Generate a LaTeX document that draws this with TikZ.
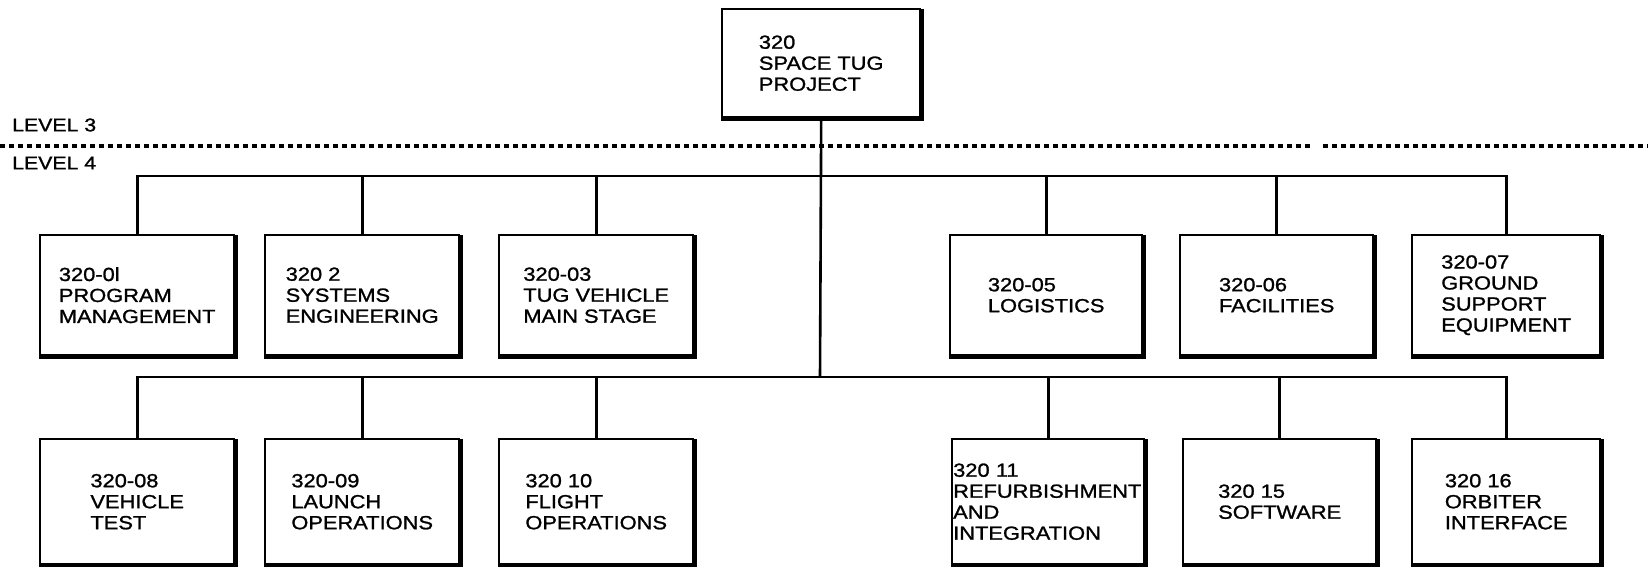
\documentclass[tikz,border=0pt]{standalone}
\usepackage{fontspec}
\setmainfont{Liberation Sans}[FakeStretch=1.15,FakeBold=1.2]
\begin{document}
\begin{tikzpicture}[x=1pt,y=-1pt,
  box/.style={draw, line width=2.4pt, anchor=north west, inner sep=0pt,
    align=left, font=\fontsize{19}{21}\selectfont},
  rowA/.style={box, minimum height=120pt},
  rowB/.style={box, minimum height=125pt},
  conn/.style={line width=2.6pt},
  heavy/.style={line width=4.4pt, line cap=butt},
  dotline/.style={line width=3.3pt, dash pattern=on 5pt off 4pt},
  lvl/.style={anchor=west, inner sep=0pt, font=\fontsize{18.5}{18.5}\selectfont}]
\useasboundingbox (0,0) rectangle (1648,567);

% level separators
\node[lvl] (lv3) at (12,125) {LEVEL 3};
\node[lvl] (lv4) at (12,163) {LEVEL 4};
\coordinate (d0) at (0,146);
\coordinate (d1) at (1310,146);
\coordinate (d2) at (1323,146);
\coordinate (d3) at (1648,146);
\draw[dotline] (d0) -- (d1);
\draw[dotline] (d2) -- (d3);

% top box
\node[box, minimum width=198pt, minimum height=108pt] (top) at (721,8) {320\\SPACE TUG\\PROJECT};

% row A
\node[rowA, minimum width=194pt] (b01) at (39,234) {320-0l\\PROGRAM\\MANAGEMENT};
\node[rowA, minimum width=194pt] (b02) at (264,234) {320 2\\SYSTEMS\\ENGINEERING};
\node[rowA, minimum width=194pt] (b03) at (498,234) {320-03\\TUG VEHICLE\\MAIN STAGE};
\node[rowA, minimum width=192pt] (b05) at (949,234) {320-05\\LOGISTICS};
\node[rowA, minimum width=193pt] (b06) at (1179,234) {320-06\\FACILITIES};
\node[rowA, minimum width=188pt] (b07) at (1411,234) {320-07\\GROUND\\SUPPORT\\EQUIPMENT};

% row B
\node[rowB, minimum width=194pt] (b08) at (39,438) {320-08\\VEHICLE\\TEST};
\node[rowB, minimum width=194pt] (b09) at (264,438) {320-09\\LAUNCH\\OPERATIONS};
\node[rowB, minimum width=194pt] (b10) at (498,438) {320 10\\FLIGHT\\OPERATIONS};
\node[rowB, text width=190pt, inner xsep=1pt] (b11) at (951,438) {320 11\\REFURBISHMENT\\AND\\INTEGRATION};
\node[rowB, minimum width=193pt] (b15) at (1182,438) {320 15\\SOFTWARE};
\node[rowB, minimum width=188pt] (b16) at (1411,438) {320 16\\ORBITER\\INTERFACE};

% heavier right and bottom edges
\foreach \n in {top,b01,b02,b03,b05,b06,b07,b08,b09,b10,b11,b15,b16}
  \draw[heavy] ([yshift=-1.2pt]\n.north east) -- (\n.south east) -- (\n.south west);

% buses
\coordinate (bus1) at (820,176);
\coordinate (bus2) at (820,377);
\draw[conn] (top.south) -- (bus2);
\draw[conn] (b01.north) |- (b07.north |- bus1) -- (b07.north);
\foreach \n in {b02,b03,b05,b06}
  \draw[conn] (\n.north) -- (\n.north |- bus1);
\draw[conn] (b08.north) |- (b16.north |- bus2) -- (b16.north);
\foreach \n in {b09,b10,b11,b15}
  \draw[conn] (\n.north) -- (\n.north |- bus2);
\end{tikzpicture}
\end{document}
